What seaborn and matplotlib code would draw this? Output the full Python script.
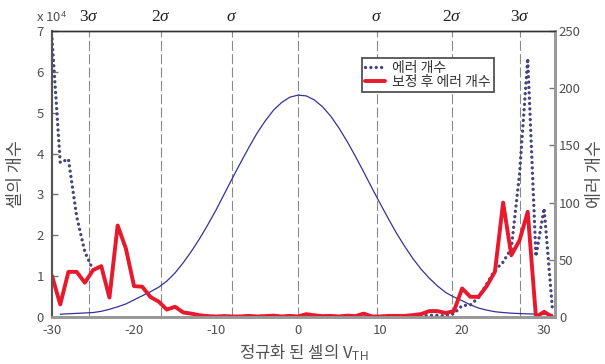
import matplotlib
matplotlib.use("Agg")
import matplotlib.pyplot as plt
import seaborn as sns

# normalised V_TH positions of the error counts (one point per unit)
x_err = list(range(-30, 32))
# error count before correction (dotted)
errors_before = [
    243, 135, 138, 88, 57, 41, 44.5, 17, 80, 60,
    27, 26.5, 17.5, 13.5, 6.5, 9, 4, 3, 1.5, 0.8,
    0.5, 0.8, 0.5, 0.5, 1.0, 0.5, 0.8, 1.2, 0.5, 1.0,
    0.5, 2.5, 1.5, 0.8, 1.0, 0.5, 1.2, 0.8, 3.0, 0.5,
    0.5, 1.0, 1.0, 1.0, 1.0, 1.0, 1.5, 1.5, 1.0, 3.0,
    10, 10.5, 17, 29, 41, 48, 60, 125, 226, 53,
    95, 8,
]
# error count after correction (red)
errors_after = [
    36, 11, 39.5, 39.5, 30, 41, 44.5, 17, 80, 60,
    27, 26.5, 17.5, 13.5, 6.5, 9, 4, 3, 1.5, 0.8,
    0.5, 0.8, 0.5, 0.5, 1.0, 0.5, 0.8, 1.2, 0.5, 1.0,
    0.5, 2.5, 1.5, 0.8, 1.0, 0.5, 1.2, 0.8, 3.0, 0.5,
    0.5, 1.0, 1.0, 1.0, 1.7, 2.6, 5.2, 5.2, 3.5, 5.2,
    25, 17.7, 17.7, 27, 39.6, 100, 54, 67, 92, 0,
    4.6, 0,
]

# cell distribution (x 10^4)
x_cells = list(range(-29, 32))
cells = [
    0.07, 0.08, 0.09, 0.10, 0.11, 0.14, 0.19, 0.25, 0.32, 0.42,
    0.52, 0.62, 0.73, 0.88, 1.08, 1.33, 1.61, 1.92, 2.26, 2.62,
    3.01, 3.40, 3.78, 4.15, 4.50, 4.80, 5.06, 5.25, 5.38, 5.43,
    5.41, 5.31, 5.14, 4.91, 4.62, 4.29, 3.93, 3.55, 3.16, 2.78,
    2.41, 2.05, 1.73, 1.43, 1.17, 0.95, 0.76, 0.60, 0.49, 0.40,
    0.30, 0.22, 0.17, 0.13, 0.11, 0.095, 0.085, 0.078, 0.072, 0.068,
    0.065,
]

sigma_pos = [-25.5, -16.7, -8.1, 0, 9.6, 18.8, 27.1]
sigma_labels = [r"$3\sigma$", r"$2\sigma$", r"$\sigma$", "", r"$\sigma$", r"$2\sigma$", r"$3\sigma$"]

x_ticks = [-30, -20, -10, 0, 10, 20, 30]
left_ticks = [0, 1, 2, 3, 4, 5, 6, 7]
right_ticks = [0, 50, 100, 150, 200, 250]

sns.set_style("white")
plt.rcParams["font.family"] = ["Noto Sans CJK KR", "DejaVu Sans"]
plt.rcParams["axes.unicode_minus"] = False
plt.rcParams["mathtext.fontset"] = "custom"
plt.rcParams["mathtext.rm"] = "Liberation Serif"
plt.rcParams["mathtext.it"] = "Liberation Serif:italic"
plt.rcParams["mathtext.sf"] = "Liberation Sans"

text_grey = "#505050"

fig = plt.figure(figsize=(6.05, 3.64), dpi=100)
ax1 = fig.add_axes([0.086, 0.129, 0.831, 0.786])
ax2 = ax1.twinx()

for xv in sigma_pos:
    ax1.axvline(xv, color="#8a8a8a", lw=0.8, ls=(0, (9, 3)), zorder=1)
for xv, lab in zip(sigma_pos, sigma_labels):
    if lab:
        ax1.text(xv, 1.02, lab, transform=ax1.get_xaxis_transform(),
                 ha="center", va="bottom", fontsize=12.5, color="#222222")

sns.lineplot(x=x_cells, y=cells, ax=ax1, color="#33339a", lw=0.9)
sns.lineplot(x=x_err, y=errors_before, ax=ax2, color="#45457a", lw=2.4,
             linestyle=(0, (0.01, 1.6)), dash_capstyle="round", label="에러 개수")
sns.lineplot(x=x_err, y=errors_after, ax=ax2, color="#e8192c", lw=2.8, label="보정 후 에러 개수")

ax1.set_xlim(-30, 31.3)
ax1.set_ylim(0, 7)
ax2.set_ylim(0, 250)
ax1.set_xticks(x_ticks)
ax1.set_yticks(left_ticks)
ax2.set_yticks(right_ticks)

ax1.set_xlabel("정규화 된 셀의 V$_{\\mathsf{TH}}$", fontsize=12, color=text_grey, labelpad=4)
ax1.set_ylabel("셀의 개수", fontsize=12.5, color=text_grey, labelpad=8)
ax2.set_ylabel("에러 개수", fontsize=12.5, color=text_grey, labelpad=4)

for ax in (ax1, ax2):
    ax.tick_params(direction="in", length=4, width=1, colors="#777777",
                   labelcolor=text_grey, labelsize=9.5)
    ax.spines["top"].set_color("#333333")
    ax.spines["top"].set_linewidth(1.0)
    ax.spines["left"].set_color("#555555")
    ax.spines["left"].set_linewidth(1.5)
    ax.spines["bottom"].set_color("#999999")
    ax.spines["bottom"].set_linewidth(2.0)
    ax.spines["right"].set_color("#999999")
    ax.spines["right"].set_linewidth(2.0)
ax1.tick_params(axis="y", pad=6)
ax1.tick_params(axis="x", pad=5)
ax2.tick_params(axis="y", pad=3)
ax2.patch.set_visible(False)

fig.text(0.06, 0.94, "x 10$^{\\mathsf{4}}$", fontsize=9.5, color=text_grey, ha="left", va="baseline")

handles, labels = ax2.get_legend_handles_labels()
leg = ax2.legend(handles, labels, loc="upper left", bbox_to_anchor=(0.616, 0.906),
                 fontsize=10, frameon=True, fancybox=False, framealpha=1,
                 handlelength=1.5, handletextpad=0.5, borderpad=0.2,
                 labelspacing=0.05, borderaxespad=0)
leg.get_frame().set_edgecolor("#444444")
leg.get_frame().set_linewidth(1.2)
for t in leg.get_texts():
    t.set_color("#333333")

fig.savefig("out.png", dpi=100)
